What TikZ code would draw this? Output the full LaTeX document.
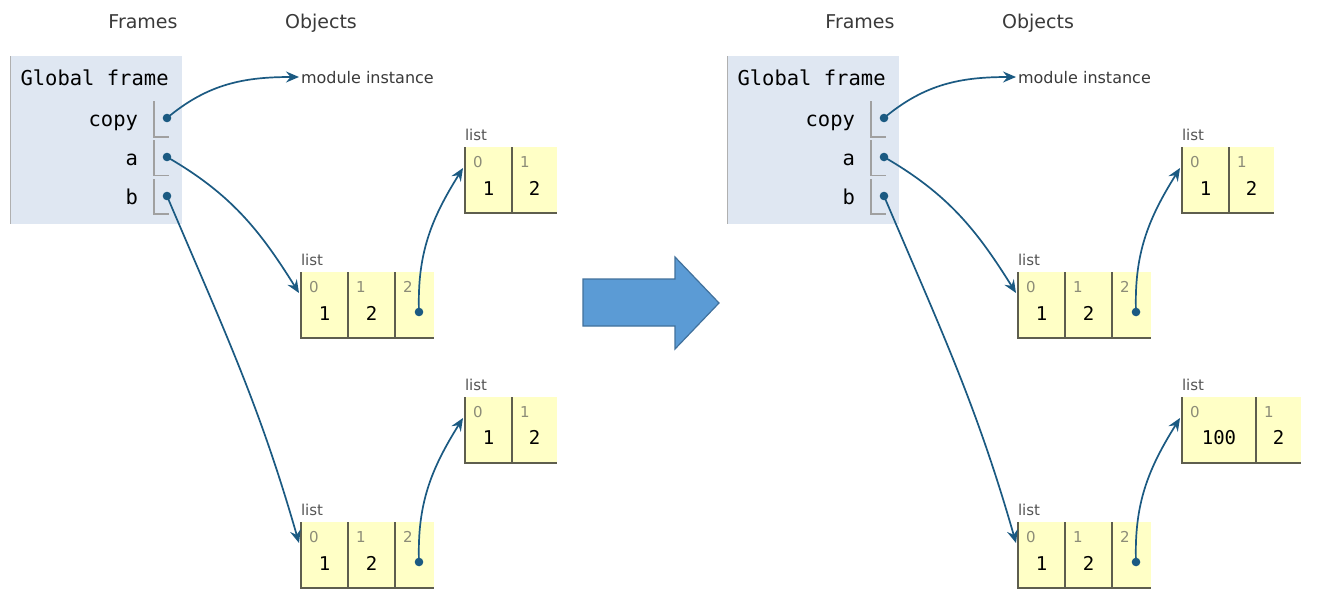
\documentclass[tikz,border=0pt]{standalone}
\usepackage{fontspec}
\setmainfont{DejaVu Sans}
\newfontfamily\ptmono{DejaVu Sans Mono}
\usetikzlibrary{arrows.meta}
\definecolor{ptr}{HTML}{1B5A82}
\definecolor{framebg}{HTML}{DFE7F2}
\definecolor{framelft}{HTML}{B0B0B0}
\definecolor{brk}{HTML}{A0A0A0}
\definecolor{listbg}{HTML}{FFFFC6}
\definecolor{listln}{HTML}{5E5E4E}
\definecolor{idxc}{HTML}{8C8C78}
\definecolor{headc}{HTML}{3A3A3A}
\definecolor{lblc}{HTML}{555555}
\definecolor{bigfill}{HTML}{5B9BD5}
\definecolor{bigline}{HTML}{41719C}
\tikzset{
  txt/.style={inner sep=0pt, outer sep=0pt},
  head/.style={txt, anchor=base, text=headc, font=\fontsize{19}{19}\selectfont},
  monotxt/.style={txt, text=black, font=\ptmono\fontsize{20.5}{20.5}\selectfont},
  modtxt/.style={txt, anchor=base west, text=headc, font=\fontsize{16}{16}\selectfont},
  lbl/.style={txt, anchor=base west, text=lblc, font=\fontsize{15}{15}\selectfont},
  idx/.style={txt, anchor=base west, text=idxc, font=\fontsize{15}{15}\selectfont},
  val/.style={txt, anchor=base, text=black, font=\ptmono\fontsize{19}{19}\selectfont},
  cell/.style={fill=listbg, minimum height=66pt, inner sep=0pt, outer sep=0pt, anchor=north west},
  lline/.style={draw=listln, line width=1.6pt},
  bline/.style={draw=brk, line width=1.2pt},
  ptrdot/.style={circle, fill=ptr, minimum size=8.6pt, inner sep=0pt},
  ptrarrow/.style={draw=ptr, line width=1.7pt, -{Stealth[length=13pt,width=11pt,inset=4.5pt]}},
  gframe/.style={fill=framebg, minimum width=172pt, minimum height=168pt, inner sep=0pt, anchor=north west},
  bigarrow/.style={fill=bigfill, draw=bigline, line width=1.2pt}
}
% #1 prefix, #2 x offset, #3 value of first cell of lower small list, #4 its width
\newcommand\ptpanel[4]{%
\begin{scope}[xshift=#2pt]
  \node[head] (#1hf) at (143,-28) {Frames};
  \node[head] (#1ho) at (321,-28) {Objects};
  % global frame
  \node[gframe] (#1gf) at (10,-56) {};
  \draw[draw=framelft, line width=1pt] (#1gf.north west) -- (#1gf.south west);
  \node[monotxt, anchor=base west] (#1gft) at (20.5,-85) {Global frame};
  \node[monotxt, anchor=base east] (#1vc) at (138,-126) {copy};
  \node[monotxt, anchor=base east] (#1va) at (138,-165) {a};
  \node[monotxt, anchor=base east] (#1vb) at (138,-204) {b};
  \draw[bline] (154,-101) -- (154,-137) -- (169,-137);
  \draw[bline] (154,-140) -- (154,-175.5) -- (169,-175.5);
  \draw[bline] (154,-179) -- (154,-214) -- (169,-214);
  \node[ptrdot] (#1dc) at (167,-118) {};
  \node[ptrdot] (#1da) at (167,-157) {};
  \node[ptrdot] (#1db) at (167,-196) {};
  % module instance
  \coordinate (#1mt) at (299,-77);
  \node[modtxt] (#1mod) at (301,-83) {module instance};
  % list A (upper small)
  \node[cell, minimum width=47pt] (#1Aa) at (465,-147) {};
  \node[cell, minimum width=45pt] (#1Ab) at (#1Aa.north east) {};
  \draw[lline] (#1Aa.north west) -- (#1Aa.south west) -- (#1Ab.south east);
  \draw[lline] (#1Ab.north west) -- (#1Ab.south west);
  \node[lbl] (#1Al) at ([yshift=7pt]#1Aa.north west) {list};
  \node[idx] (#1Ai0) at ([xshift=8pt,yshift=-20pt]#1Aa.north west) {0};
  \node[idx] (#1Ai1) at ([xshift=8pt,yshift=-20pt]#1Ab.north west) {1};
  \node[val] (#1Av0) at ([yshift=-48pt]#1Aa.north) {1};
  \node[val] (#1Av1) at ([yshift=-48pt]#1Ab.north) {2};
  % list B (a)
  \node[cell, minimum width=47pt] (#1Ba) at (301,-272) {};
  \node[cell, minimum width=47pt] (#1Bb) at (#1Ba.north east) {};
  \node[cell, minimum width=39pt] (#1Bc) at (#1Bb.north east) {};
  \draw[lline] (#1Ba.north west) -- (#1Ba.south west) -- (#1Bc.south east);
  \draw[lline] (#1Bb.north west) -- (#1Bb.south west);
  \draw[lline] (#1Bc.north west) -- (#1Bc.south west);
  \node[lbl] (#1Bl) at ([yshift=7pt]#1Ba.north west) {list};
  \node[idx] (#1Bi0) at ([xshift=8pt,yshift=-20pt]#1Ba.north west) {0};
  \node[idx] (#1Bi1) at ([xshift=8pt,yshift=-20pt]#1Bb.north west) {1};
  \node[idx] (#1Bi2) at ([xshift=8pt,yshift=-20pt]#1Bc.north west) {2};
  \node[val] (#1Bv0) at ([yshift=-48pt]#1Ba.north) {1};
  \node[val] (#1Bv1) at ([yshift=-48pt]#1Bb.north) {2};
  \node[ptrdot] (#1Bd) at ([xshift=24pt,yshift=-40pt]#1Bc.north west) {};
  % list C (lower small)
  \node[cell, minimum width=#4pt] (#1Ca) at (465,-397) {};
  \node[cell, minimum width=45pt] (#1Cb) at (#1Ca.north east) {};
  \draw[lline] (#1Ca.north west) -- (#1Ca.south west) -- (#1Cb.south east);
  \draw[lline] (#1Cb.north west) -- (#1Cb.south west);
  \node[lbl] (#1Cl) at ([yshift=7pt]#1Ca.north west) {list};
  \node[idx] (#1Ci0) at ([xshift=8pt,yshift=-20pt]#1Ca.north west) {0};
  \node[idx] (#1Ci1) at ([xshift=8pt,yshift=-20pt]#1Cb.north west) {1};
  \node[val] (#1Cv0) at ([yshift=-47pt]#1Ca.north) {#3};
  \node[val] (#1Cv1) at ([yshift=-47pt]#1Cb.north) {2};
  % list D (b)
  \node[cell, minimum width=47pt] (#1Da) at (301,-522) {};
  \node[cell, minimum width=47pt] (#1Db) at (#1Da.north east) {};
  \node[cell, minimum width=39pt] (#1Dc) at (#1Db.north east) {};
  \draw[lline] (#1Da.north west) -- (#1Da.south west) -- (#1Dc.south east);
  \draw[lline] (#1Db.north west) -- (#1Db.south west);
  \draw[lline] (#1Dc.north west) -- (#1Dc.south west);
  \node[lbl] (#1Dl) at ([yshift=7pt]#1Da.north west) {list};
  \node[idx] (#1Di0) at ([xshift=8pt,yshift=-20pt]#1Da.north west) {0};
  \node[idx] (#1Di1) at ([xshift=8pt,yshift=-20pt]#1Db.north west) {1};
  \node[idx] (#1Di2) at ([xshift=8pt,yshift=-20pt]#1Dc.north west) {2};
  \node[val] (#1Dv0) at ([yshift=-48pt]#1Da.north) {1};
  \node[val] (#1Dv1) at ([yshift=-48pt]#1Db.north) {2};
  \node[ptrdot] (#1Dd) at ([xshift=24pt,yshift=-40pt]#1Dc.north west) {};
  % arrow targets
  \coordinate (#1At) at ([xshift=-2pt,yshift=-21pt]#1Aa.north west);
  \coordinate (#1Bt) at ([xshift=-2pt,yshift=-21pt]#1Ba.north west);
  \coordinate (#1Ct) at ([xshift=-2pt,yshift=-21pt]#1Ca.north west);
  \coordinate (#1Dt) at ([xshift=-2pt,yshift=-21pt]#1Da.north west);
  % pointers
  \draw[ptrarrow] (#1dc.center) to[out=40,in=180] (#1mt);
  \draw[ptrarrow] (#1da.center) to[out=-30,in=122] (#1Bt);
  \draw[ptrarrow] (#1db.center) to[out=-67,in=106] (#1Dt);
  \draw[ptrarrow] (#1Bd.center) to[out=92,in=238] (#1At);
  \draw[ptrarrow] (#1Dd.center) to[out=92,in=238] (#1Ct);
\end{scope}}
\begin{document}
\begin{tikzpicture}[x=1pt,y=1pt]
  \fill[white] (0,0) rectangle (1317,-606);
  \useasboundingbox (0,0) rectangle (1317,-606);
  \ptpanel{L}{0}{1}{47}
  \ptpanel{R}{717}{100}{74}
  \draw[bigarrow] (583,-279) -- (675,-279) -- (675,-257) -- (719,-303)
    -- (675,-349) -- (675,-326) -- (583,-326) -- cycle;
\end{tikzpicture}
\end{document}
